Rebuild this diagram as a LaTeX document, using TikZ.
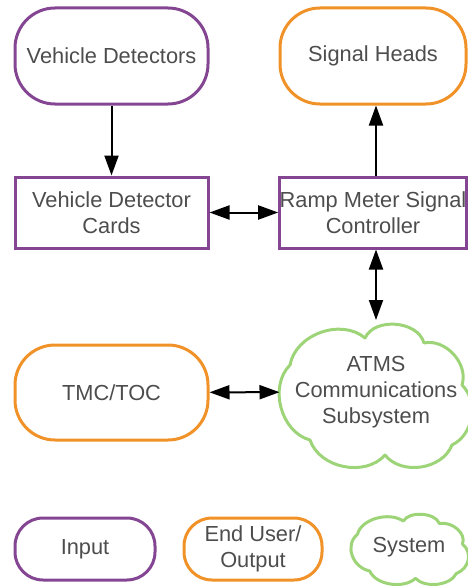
\documentclass[tikz,border=0pt]{standalone}
\usepackage{fontspec}
\setmainfont{Liberation Sans}
\usetikzlibrary{arrows.meta}
\definecolor{vpurple}{RGB}{132,70,146}
\definecolor{vorange}{RGB}{240,146,40}
\definecolor{vgreen}{RGB}{158,212,120}
\definecolor{vtext}{RGB}{77,77,77}
\begin{document}
\begin{tikzpicture}[x=1pt,y=-1pt,
  lbl/.style={text=vtext,font=\fontsize{21.8pt}{26pt}\selectfont,align=center,line width=3pt,inner sep=0pt},
  inbox/.style={lbl,draw=vpurple,rounded corners=40pt},
  outbox/.style={lbl,draw=vorange,rounded corners=40pt},
  sysbox/.style={lbl,draw=vpurple},
  cloudline/.style={draw=vgreen,line width=3pt,line join=round},
  arr/.style={line width=2pt,-{Triangle[length=20pt,width=14pt]}},
  darr/.style={line width=2pt,{Triangle[length=20pt,width=14pt]}-{Triangle[length=20pt,width=14pt]}},
  cloudpic/.pic={
    \draw[cloudline] (-86,-27) to[bend left=60] (-11,-54) to[bend left=70] (48,-49)
      to[bend left=60] (86,-7) to[bend left=55] (76,53) to[bend left=60] (9,63)
      to[bend left=60] (-66,48) to[bend left=60] cycle;
  }
]
\useasboundingbox (0,0) rectangle (467,586);

\node[inbox,minimum width=193pt,minimum height=96pt] (vd) at (111.5,56) {Vehicle Detectors};
\node[outbox,minimum width=186pt,minimum height=96pt] (sh) at (373,56) {Signal Heads};
\node[sysbox,minimum width=193pt,minimum height=71pt] (cards) at (111.5,212.5) {Vehicle Detector\\Cards};
\node[sysbox,minimum width=186pt,minimum height=71pt] (ctrl) at (373,212.5) {Ramp Meter Signal\\Controller};
\node[outbox,minimum width=193pt,minimum height=95pt] (tmc) at (111.5,392.5) {TMC/TOC};

\pic at (376,392) {cloudpic};
\node[lbl,minimum width=190pt,minimum height=141pt] (atms) at (376,392) {ATMS\\Communications\\Subsystem};

\node[inbox,rounded corners=28pt,minimum width=140pt,minimum height=62pt] (lin) at (85,549) {Input};
\node[outbox,rounded corners=28pt,minimum width=138pt,minimum height=62pt] (lout) at (253,549) {End User/\\Output};
\pic[xscale=0.61,yscale=0.49] at (410,547.5) {cloudpic};
\node[lbl] (lsys) at (409,547) {System};

\draw[arr] (vd) -- (cards);
\draw[arr] ([xshift=3pt]ctrl.north) -- ([xshift=3pt]sh.south);
\draw[darr] (cards) -- (ctrl);
\draw[darr] ([xshift=3pt]ctrl.south) -- (atms.north);
\draw[darr] (tmc) -- (atms);
\end{tikzpicture}
\end{document}
